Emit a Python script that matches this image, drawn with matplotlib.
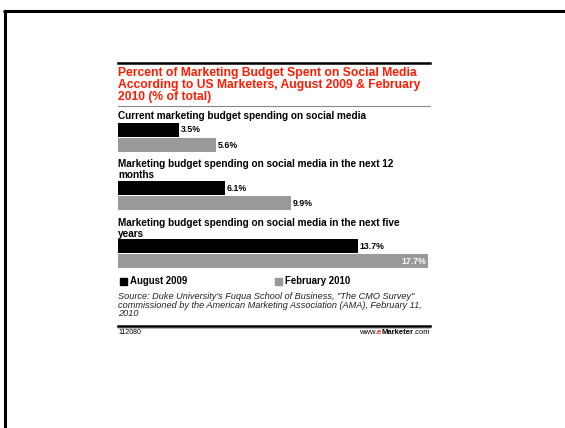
import matplotlib
matplotlib.use("Agg")
import matplotlib.pyplot as plt
from matplotlib.lines import Line2D
from matplotlib.patches import Rectangle

# chart data
grupos = [
    "Current marketing budget spending on social media",
    "Marketing budget spending on social media in the next 12\nmonths",
    "Marketing budget spending on social media in the next five\nyears",
]
agosto_2009 = [3.5, 6.1, 13.7]
fevereiro_2010 = [5.6, 9.9, 17.7]
series = ["August 2009", "February 2010"]

W, H = 565, 428
PRETO = "#000000"
CINZA = "#999999"
VERMELHO = "#ff1a00"
FONTE = "Liberation Sans"


def fx(x):
    return x / W


def fy(y):
    return 1 - y / H


fig = plt.figure(figsize=(W / 100, H / 100), dpi=100)
fig.patch.set_facecolor("white")

# moldura (topo e esquerda)
fig.add_artist(Line2D([fx(3), 1], [fy(10.5), fy(10.5)], color="black", lw=2.2,
                      solid_capstyle="butt"))
fig.add_artist(Line2D([fx(4.5), fx(4.5)], [fy(9.5), 0], color="black", lw=2.2,
                      solid_capstyle="butt"))

# eixo das barras: x em %, y em pixels
ax = fig.add_axes([fx(118), 0, fx(428) - fx(118), 1])
ax.set_xlim(0, 17.7)
ax.set_ylim(H, 0)
ax.axis("off")

# linhas do cabeçalho e rodapé
fig.add_artist(Line2D([fx(118), fx(430)], [fy(63), fy(63)], color="black", lw=1.8))
fig.add_artist(Line2D([fx(118), fx(430)], [fy(105.5), fy(105.5)], color="#888888", lw=0.8))
fig.add_artist(Line2D([fx(118), fx(430)], [fy(326), fy(326)], color="black", lw=1.8))
fig.add_artist(Line2D([fx(118), fx(430)], [fy(328), fy(328)], color="#aaaaaa", lw=0.6))

fig.text(fx(118), fy(67),
         "Percent of Marketing Budget Spent on Social Media\n"
         "According to US Marketers, August 2009 & February\n"
         "2010 (% of total)",
         color=VERMELHO, fontsize=8.7, fontweight="bold", family=FONTE,
         va="top", ha="left", linespacing=0.98)

# posições verticais de cada grupo
y_rotulo = [111, 159, 218]
y_preta = [130, 188, 246]
y_cinza = [145, 203, 261]

for i, nome in enumerate(grupos):
    fig.text(fx(118), fy(y_rotulo[i]), nome, fontsize=7.2, fontweight="bold",
             family=FONTE, va="top", ha="left", linespacing=1.1)

ax.barh(y_preta, agosto_2009, height=14, color=PRETO)
ax.barh(y_cinza, fevereiro_2010, height=14, color=CINZA)

for v, y in zip(agosto_2009, y_preta):
    ax.text(v + 0.1, y, f"{v}%", fontsize=6.3, fontweight="bold", family=FONTE,
            va="center", ha="left")
for v, y in zip(fevereiro_2010, y_cinza):
    if v == max(fevereiro_2010):
        ax.text(v - 0.1, y, f"{v}%", fontsize=6.3, fontweight="bold", family=FONTE,
                va="center", ha="right", color="white")
    else:
        ax.text(v + 0.1, y, f"{v}%", fontsize=6.3, fontweight="bold", family=FONTE,
                va="center", ha="left")

# legenda
for x0, cor, nome in [(120, PRETO, series[0]), (275, CINZA, series[1])]:
    fig.add_artist(Rectangle((fx(x0), fy(285)), fx(7), 7 / H, color=cor))
    fig.text(fx(x0 + 10), fy(281.5), nome, fontsize=6.9, fontweight="bold",
             family=FONTE, va="center", ha="left")

fig.text(fx(118), fy(292),
         "Source: Duke University's Fuqua School of Business, \"The CMO Survey\"\n"
         "commissioned by the American Marketing Association (AMA), February 11,\n"
         "2010",
         fontsize=6.6, style="italic", family=FONTE, va="top", ha="left",
         linespacing=0.95, color="#222222")

fig.text(fx(118), fy(332.5), "112080", fontsize=5, family=FONTE, va="center", ha="left")

# rodapé com estilos mistos: mede a largura total e monta da esquerda para a direita
partes = [("www.", "normal", "black", -0.8), ("e", "bold", VERMELHO, 0.3),
          ("Marketer", "bold", "black", 0.4), (".com", "normal", "black", 0.0)]
renderer = fig.canvas.get_renderer()
larguras = []
for txt, peso, cor, folga in partes:
    tmp = fig.text(0, 0, txt, fontsize=5.5, family=FONTE, fontweight=peso)
    larguras.append(tmp.get_window_extent(renderer).width + folga)
    tmp.remove()
x_atual = 430 - sum(larguras)
for (txt, peso, cor, folga), w in zip(partes, larguras):
    fig.text(fx(x_atual), fy(332.5), txt, fontsize=5.5, family=FONTE,
             fontweight=peso, color=cor, va="center", ha="left")
    x_atual += w

fig.savefig("out.png", dpi=100, facecolor="white")
